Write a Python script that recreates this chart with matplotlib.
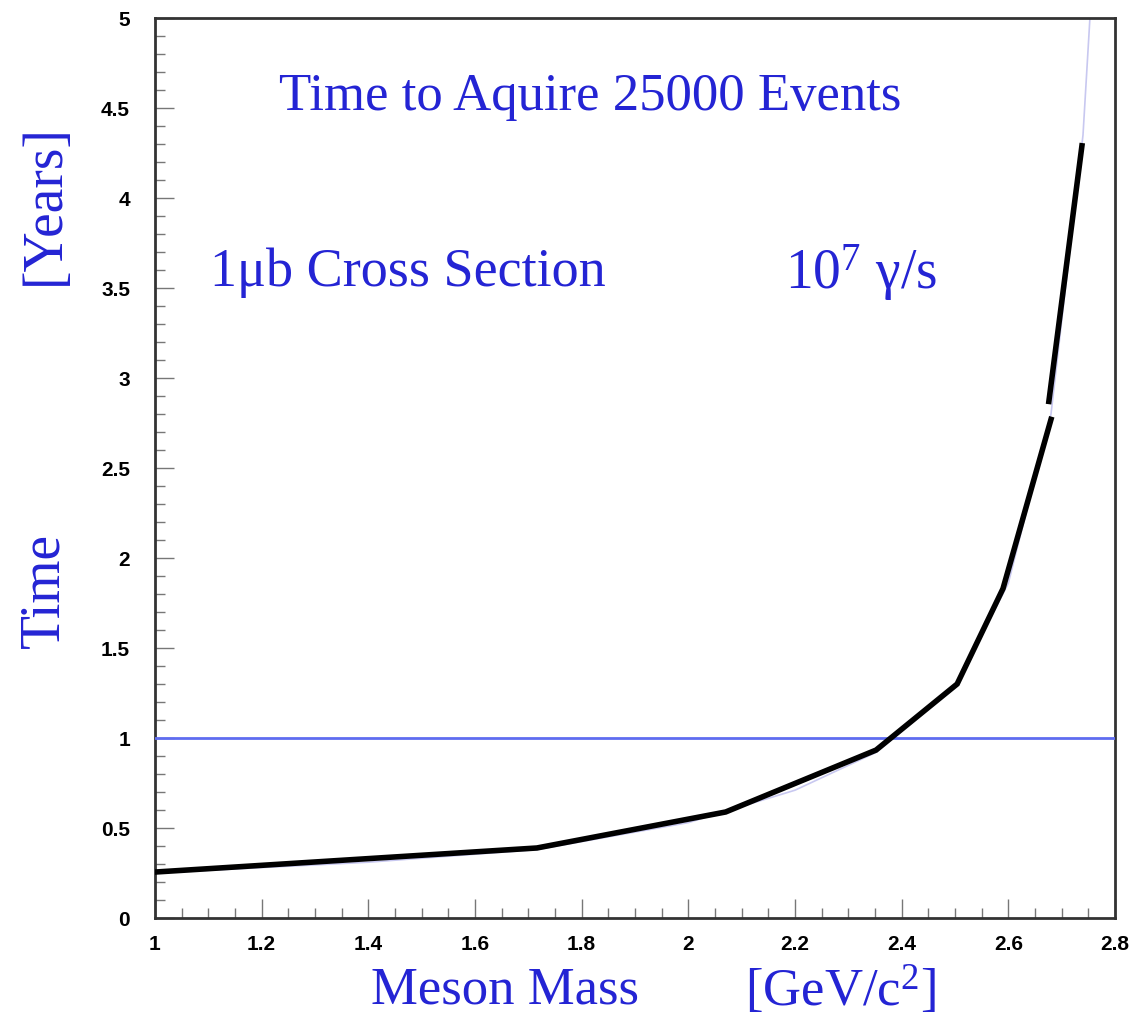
import matplotlib
matplotlib.use("Agg")
import matplotlib.pyplot as plt
from matplotlib.ticker import MultipleLocator

# measured curve, drawn as piecewise segments (gap near 2.68)
mass_a = [1.004, 1.716, 2.07, 2.352, 2.504, 2.59, 2.68]
time_a = [0.256, 0.389, 0.589, 0.933, 1.30, 1.83, 2.77]
mass_b = [2.676, 2.738]
time_b = [2.87, 4.29]

# thin fitted curve underneath
fit_mass = [1.0, 1.4, 1.716, 2.0, 2.2, 2.352, 2.5, 2.6, 2.68, 2.74, 2.753]
fit_time = [0.25, 0.31, 0.38, 0.53, 0.71, 0.92, 1.28, 1.86, 2.80, 4.35, 5.0]

limit_time = 1.0

xticks = [1, 1.2, 1.4, 1.6, 1.8, 2, 2.2, 2.4, 2.6, 2.8]
xlabels = ['1', '1.2', '1.4', '1.6', '1.8', '2', '2.2', '2.4', '2.6', '2.8']
yticks = [0, 0.5, 1, 1.5, 2, 2.5, 3, 3.5, 4, 4.5, 5]
ylabels = ['0', '0.5', '1', '1.5', '2', '2.5', '3', '3.5', '4', '4.5', '5']

plt.rcParams['mathtext.fontset'] = 'custom'
plt.rcParams['mathtext.rm'] = 'Liberation Serif'
plt.rcParams['mathtext.it'] = 'Liberation Serif'

blue = '#2424d4'
serif = ['Liberation Serif', 'DejaVu Serif']

fig = plt.figure(figsize=(11.46, 10.21), dpi=100)
ax = fig.add_axes([155 / 1146, 103 / 1021, 960 / 1146, 900 / 1021])

ax.plot(fit_mass, fit_time, color='#c8c8f0', lw=1.2, zorder=2)
ax.axhline(limit_time, color='#5f6cf0', lw=2, zorder=3)
ax.plot(mass_a, time_a, color='black', lw=4, solid_joinstyle='miter', zorder=4)
ax.plot(mass_b, time_b, color='black', lw=4, zorder=4)

ax.set_xlim(1, 2.8)
ax.set_ylim(0, 5)
ax.xaxis.set_minor_locator(MultipleLocator(0.05))
ax.yaxis.set_minor_locator(MultipleLocator(0.1))
ax.set_xticks(xticks)
ax.set_xticklabels(xlabels)
ax.set_yticks(yticks)
ax.set_yticklabels(ylabels)
ax.tick_params(which='both', direction='in', top=False, right=False, color='#777777')
ax.tick_params(which='major', length=14, width=1)
ax.tick_params(which='minor', length=7, width=1)
ax.tick_params(axis='x', pad=12)
ax.tick_params(axis='y', pad=18)
for lab in ax.get_xticklabels() + ax.get_yticklabels():
    lab.set_fontfamily('Liberation Sans')
    lab.set_fontweight('bold')
    lab.set_fontsize(15)
for sp in ax.spines.values():
    sp.set_color('#333333')
    sp.set_linewidth(2)

ax.text(0.453, 0.912, 'Time to Aquire 25000 Events', transform=ax.transAxes,
        ha='center', va='center', fontsize=38, color=blue, family=serif)
ax.text(0.057, 0.717, '1\u03bcb Cross Section', transform=ax.transAxes,
        ha='left', va='center', fontsize=39, color=blue, family=serif)
ax.text(0.656, 0.717, '10$^7$ \u03b3/s', transform=ax.transAxes,
        ha='left', va='center', fontsize=40, color=blue, family=serif)

fig.text(0.039, 0.422, 'Time', rotation=90, ha='center', va='center',
         fontsize=40, color=blue, family=serif)
fig.text(0.039, 0.800, '[Years]', rotation=90, ha='center', va='center',
         fontsize=40, color=blue, family=serif)
fig.text(0.441, 0.030, 'Meson Mass', ha='center', va='center',
         fontsize=38, color=blue, family=serif)
fig.text(0.733, 0.030, '[GeV/c$^2$]', ha='center', va='center',
         fontsize=38, color=blue, family=serif)

fig.savefig('out.png', dpi=100)
